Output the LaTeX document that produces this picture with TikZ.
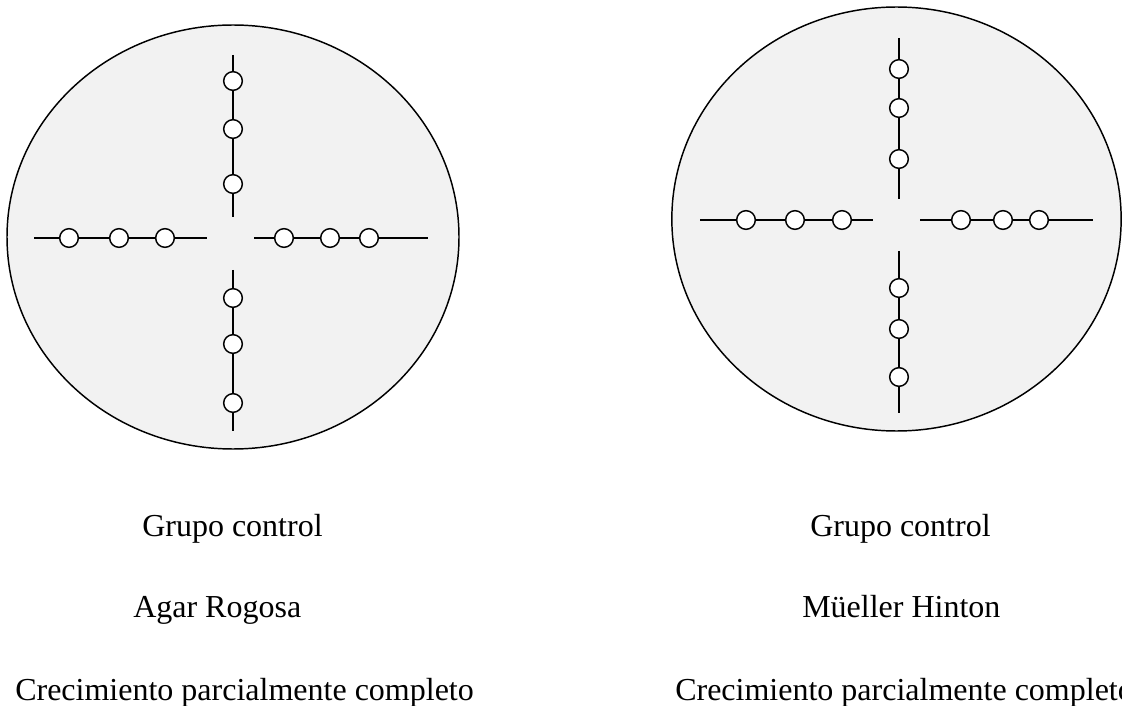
\documentclass[tikz,border=0pt]{standalone}
\usepackage{fontspec}
\setmainfont{Liberation Serif}
\usetikzlibrary{shapes.geometric}
\definecolor{plategray}{HTML}{F2F2F2}
\begin{document}
\begin{tikzpicture}[x=0.75pt,y=-0.75pt,
  plate/.style={ellipse, draw=black, fill=plategray, line width=1.1pt, inner sep=0pt},
  arm/.style={draw=black, line width=1.1pt},
  colony/.style={circle, draw=black, fill=white, line width=1.1pt,
    minimum size=14pt, inner sep=0pt},
  caption/.style={font=\fontsize{24}{28}\selectfont, anchor=base west, inner sep=0pt}]
\useasboundingbox (0,0) rectangle (1122,706);

% ---------- left plate ----------
\node[plate, minimum width=339pt, minimum height=318pt] (plateA) at (233,237) {};
\coordinate (aT1) at (233,55);  \coordinate (aT2) at (233,217);
\coordinate (aB1) at (233,270); \coordinate (aB2) at (233,431);
\coordinate (aL1) at (34,238);  \coordinate (aL2) at (207,238);
\coordinate (aR1) at (254,238); \coordinate (aR2) at (428,238);
\draw[arm] (aT1) -- (aT2);
\draw[arm] (aB1) -- (aB2);
\draw[arm] (aL1) -- (aL2);
\draw[arm] (aR1) -- (aR2);
\foreach \y [count=\i] in {81,129,184} \node[colony] (aTc\i) at (233,\y) {};
\foreach \y [count=\i] in {298,344,403} \node[colony] (aBc\i) at (233,\y) {};
\foreach \x [count=\i] in {69,119,165} \node[colony] (aLc\i) at (\x,238) {};
\foreach \x [count=\i] in {284,330,369} \node[colony] (aRc\i) at (\x,238) {};

% ---------- right plate ----------
\node[plate, minimum width=337pt, minimum height=318pt] (plateB) at (896.5,219) {};
\coordinate (bT1) at (899,38);  \coordinate (bT2) at (899,199);
\coordinate (bB1) at (899,251); \coordinate (bB2) at (899,413);
\coordinate (bL1) at (700,220); \coordinate (bL2) at (873,220);
\coordinate (bR1) at (920,220); \coordinate (bR2) at (1093,220);
\draw[arm] (bT1) -- (bT2);
\draw[arm] (bB1) -- (bB2);
\draw[arm] (bL1) -- (bL2);
\draw[arm] (bR1) -- (bR2);
\foreach \y [count=\i] in {69,108,159} \node[colony] (bTc\i) at (899,\y) {};
\foreach \y [count=\i] in {288,329,377} \node[colony] (bBc\i) at (899,\y) {};
\foreach \x [count=\i] in {746,795,842} \node[colony] (bLc\i) at (\x,220) {};
\foreach \x [count=\i] in {961,1003,1039} \node[colony] (bRc\i) at (\x,220) {};

% ---------- captions ----------
\node[caption] (capA1) at (142,536) {Grupo control};
\node[caption] (capA2) at (133,617) {Agar Rogosa};
\node[caption] (capA3) at (15,700) {Crecimiento parcialmente completo};
\node[caption] (capB1) at (810,536) {Grupo control};
\node[caption] (capB2) at (802,617) {Müeller Hinton};
\node[caption] (capB3) at (675,700) {Crecimiento parcialmente completo};
\end{tikzpicture}
\end{document}
